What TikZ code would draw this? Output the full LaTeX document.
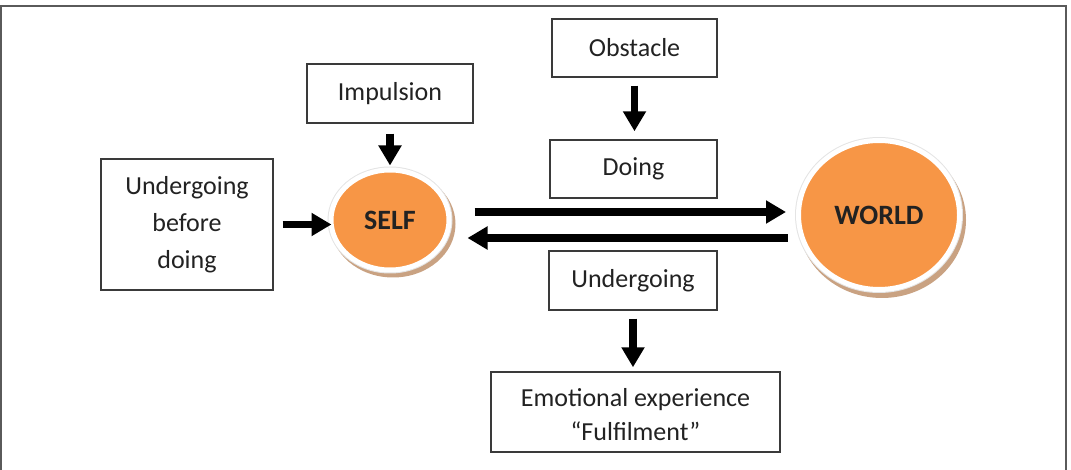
\documentclass[tikz,border=0pt]{standalone}
\usepackage{fontspec}
\setmainfont{Carlito}
\usetikzlibrary{arrows.meta,shapes.geometric,backgrounds,calc}
\definecolor{orng}{HTML}{F79646}
\definecolor{shadowc}{HTML}{C9A282}
\definecolor{ringc}{HTML}{E4E4E4}
\definecolor{boxline}{HTML}{3A3A3A}
\definecolor{framec}{HTML}{5A5A5A}
\definecolor{txt}{HTML}{222222}
\begin{document}
\begin{tikzpicture}[x=1pt,y=-1pt,
  box/.style={draw=boxline,line width=1.4pt,fill=white,inner sep=0pt,align=center,text=txt,
    font=\fontsize{26}{37}\selectfont},
  blob/.style={ellipse,fill=orng,draw=white,line width=5pt,inner sep=0pt,text=txt,
    font=\bfseries\fontsize{28}{32}\selectfont},
  bigarrow/.style={line width=7.5pt,-{Triangle[length=20pt,width=22pt]}},
  framestyle/.style={draw=framec,line width=2pt}]
\useasboundingbox (0,0) rectangle (1071,470);
\draw[framestyle] (1,472) -- (1,6) -- (1066,6) -- (1066,472);

\node[box,minimum width=165pt,minimum height=58pt] (obst) at (634.5,48) {Obstacle};
\node[box,minimum width=166pt,minimum height=59pt] (imp) at (390,93.5) {Impulsion};
\node[box,minimum width=167pt,minimum height=58pt] (doing) at (633.5,169) {Doing};
\node[box,minimum width=172pt,minimum height=131pt] (ubd) at (187,224.5) {Undergoing\\before\\doing};
\node[box,minimum width=168pt,minimum height=59pt] (und) at (633,280.5) {Undergoing};
\node[box,minimum width=289pt,minimum height=80pt,font=\fontsize{26}{34}\selectfont,
  text height=58pt,text depth=2pt] (emo) at (635.5,412) {Emotional experience\\“Fulfilment”};

\node[blob,minimum width=118pt,minimum height=100pt] (SELF) at (390,220) {SELF};
\node[blob,minimum width=161pt,minimum height=149pt] (WORLD) at (879,215) {WORLD};

\begin{scope}[on background layer]
  \fill[shadowc] ($(SELF.center)+(3,4)$) ellipse [x radius=62.5pt, y radius=53.5pt];
  \fill[ringc] (SELF.center) ellipse [x radius=62.5pt, y radius=53.5pt];
  \fill[shadowc] ($(WORLD.center)+(3,5)$) ellipse [x radius=84pt, y radius=78pt];
  \fill[ringc] (WORLD.center) ellipse [x radius=84pt, y radius=78pt];
\end{scope}

\draw[bigarrow,shorten <=8pt,shorten >=8pt] (obst.south) -- (obst.south |- doing.north);
\draw[bigarrow,shorten <=10pt,shorten >=2pt] (imp.south) -- (imp.south |- SELF.north);
\draw[bigarrow,shorten <=9pt,shorten >=-3pt] (ubd.east) -- (ubd.east -| SELF.west);
\draw[bigarrow,shorten <=8pt,shorten >=4pt] (und.south) -- (und.south |- emo.north);
\draw[bigarrow] ([xshift=23pt,yshift=8pt]SELF.east) -- ([xshift=-10pt,yshift=3pt]WORLD.west);
\draw[bigarrow] ([xshift=-8.5pt,yshift=-23pt]WORLD.west) -- ([xshift=16pt,yshift=-18pt]SELF.east);
\end{tikzpicture}
\end{document}
